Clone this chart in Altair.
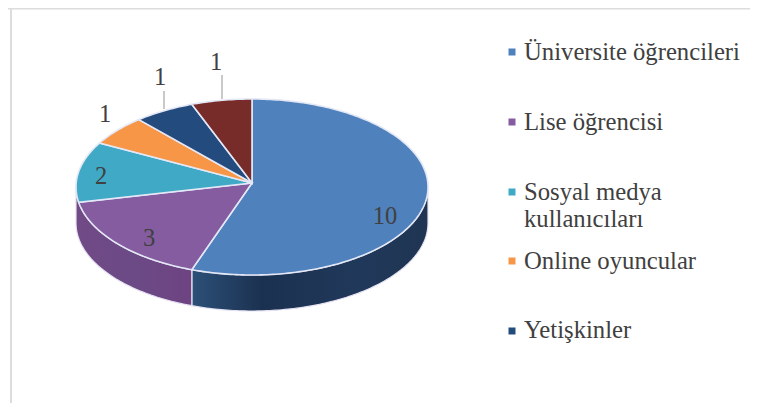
import math
import altair as alt

# Data
values = [10, 3, 2, 1, 1, 1]
top_colors = ["#4f81bd", "#855ca0", "#3fa9c6", "#f79646", "#234b7d", "#772c2a"]
legend_labels = ["Üniversite öğrencileri", "Lise öğrencisi", "Sosyal medya", "Online oyuncular", "Yetişkinler"]
legend_extra = "kullanıcıları"
value_labels = ["10", "3", "2", "1", "1", "1"]

# Layout (page pixels; the chart sits at an 8 px offset)
OFF = 8
CX, CY, AY, RX, RY, DEPTH = 252 - OFF, 187 - OFF, 183 - OFF, 176, 88, 36
LABEL_POS = [(385, 224), (149, 246), (101, 184), (105, 122), (160, 85), (216, 70)]
LEGEND_Y = [52, 122, 192, 261, 331]
TEXT_BASE = [60, 130, 200, 269, 338]
TEXT_EXTRA_BASE = 227
LEADERS = [(164, 91, 109), (222, 75, 99)]

total = sum(values)


def pt(t, dy=0.0):
    r = math.radians(t)
    return [CX + RX * math.sin(r), CY - RY * math.cos(r) + dy]


def arc(a, b, dy=0.0):
    n = max(2, int(abs(b - a)) + 1)
    return [pt(a + (b - a) * i / n, dy) for i in range(n + 1)]


def poly(coords):
    return {"type": "Feature", "geometry": {"type": "Polygon", "coordinates": [coords + [coords[0]]]}, "properties": {}}


angles = [0.0]
for v in values:
    angles.append(angles[-1] + v / total * 360)

wedges = []
for i, c in enumerate(top_colors):
    f = poly([[CX, AY]] + arc(angles[i], angles[i + 1]))
    f["properties"]["color"] = c
    wedges.append(f)

proj = alt.Projection(type="identity", scale=1, translate=[0, 0])


def side(a, b, stops):
    f = poly(arc(a, b) + arc(b, a, DEPTH))
    grad = alt.Gradient(gradient="linear", x1=0, x2=1, y1=0, y2=0,
                        stops=[alt.GradientStop(offset=o, color=c) for o, c in stops])
    return alt.Chart(alt.Data(values=[f])).mark_geoshape(
        fill=grad, stroke="#e6e2f2", strokeWidth=1.2).project(**proj.to_dict())


side_blue = side(90, angles[1], [(0, "#2c5078"), (0.3, "#1b3150"), (0.7, "#20385a"), (1, "#1f3552")])
side_purple = side(angles[1], 270, [(0, "#714a86"), (0.5, "#6b4a85"), (1, "#6e4382")])

top = alt.Chart(alt.Data(values=wedges)).mark_geoshape(
    stroke="#e4e8f6", strokeWidth=1.6
).encode(color=alt.Color("properties.color:N", scale=None)).project(**proj.to_dict())

rows = [{"x": x - OFF, "y": y - OFF, "t": t} for (x, y), t in zip(LABEL_POS, value_labels)]
val_text = alt.Chart(alt.Data(values=rows)).mark_text(
    font="Liberation Serif", fontSize=24.5, color="#404040", align="center", baseline="alphabetic"
).encode(x=alt.X("x:Q", scale=None), y=alt.Y("y:Q", scale=None), text="t:N")

lead_rows = [{"x": x - OFF, "y": a - OFF, "y2": b - OFF} for x, a, b in LEADERS]
leaders = alt.Chart(alt.Data(values=lead_rows)).mark_rule(color="#a6a6a6", strokeWidth=1.2).encode(
    x=alt.X("x:Q", scale=None), y=alt.Y("y:Q", scale=None), y2="y2:Q")

sq_rows = [{"x": 512 - OFF, "y": y - OFF, "c": c} for y, c in zip(LEGEND_Y, top_colors)]
squares = alt.Chart(alt.Data(values=sq_rows)).mark_point(shape="square", filled=True, size=49, opacity=1).encode(
    x=alt.X("x:Q", scale=None), y=alt.Y("y:Q", scale=None), color=alt.Color("c:N", scale=None))

leg_rows = [{"x": 524 - OFF, "y": y - OFF, "t": t} for y, t in zip(TEXT_BASE, legend_labels)]
leg_rows.append({"x": 524 - OFF, "y": TEXT_EXTRA_BASE - OFF, "t": legend_extra})
leg_text = alt.Chart(alt.Data(values=leg_rows)).mark_text(
    font="Liberation Serif", fontSize=24.7, color="#404040", align="left", baseline="alphabetic"
).encode(x=alt.X("x:Q", scale=None), y=alt.Y("y:Q", scale=None), text="t:N")

border_l = alt.Chart(alt.Data(values=[{"x": 11 - OFF}])).mark_rule(color="#dcdcdc", strokeWidth=2).encode(
    x=alt.X("x:Q", scale=None))
border_t = alt.Chart(alt.Data(values=[{"y": 0}])).mark_rule(color="#dcdcdc", strokeWidth=3).encode(
    y=alt.Y("y:Q", scale=None))

chart = alt.layer(
    border_l, border_t, side_blue, side_purple, top, leaders, val_text, squares, leg_text
).properties(
    width=742, height=395, padding=0, autosize=alt.AutoSizeParams(type="none"), background="white"
).configure_view(stroke=None)

chart.save("out.html", embed_options={"renderer": "svg", "actions": False})
